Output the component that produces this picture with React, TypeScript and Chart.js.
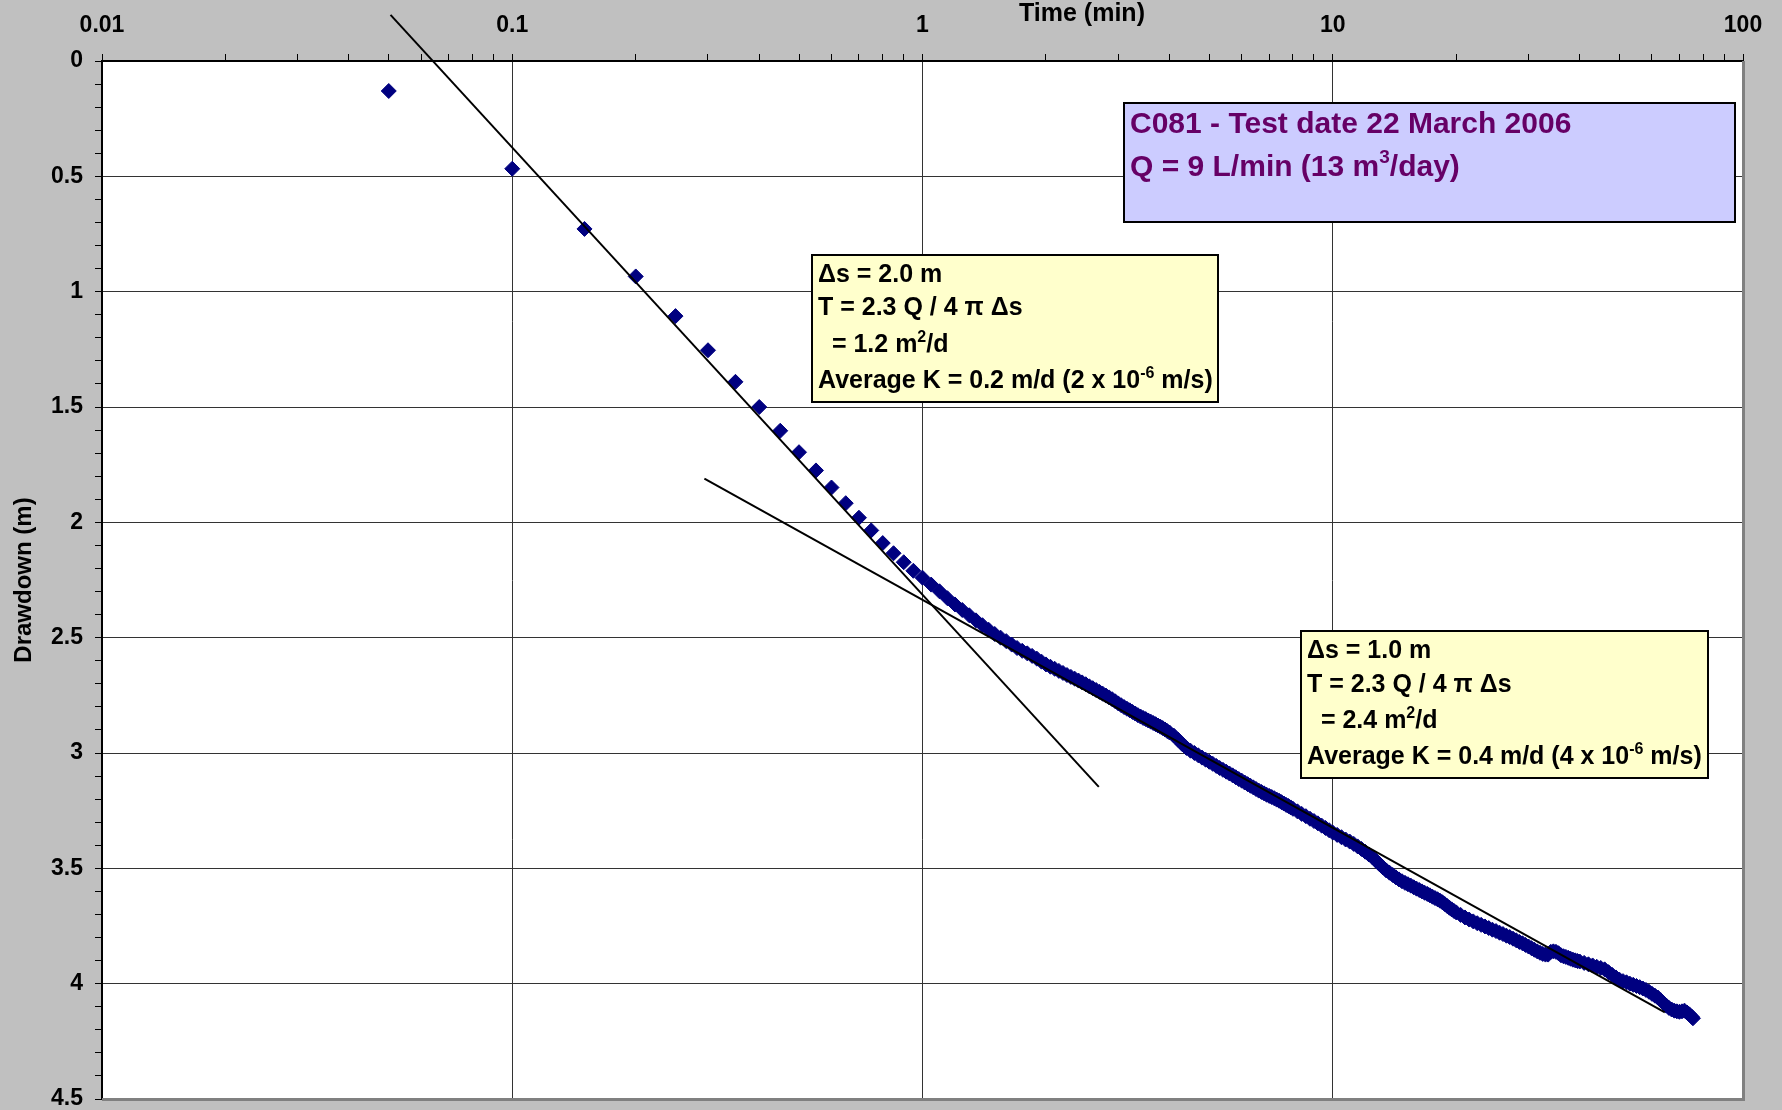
import React, { useEffect, useRef } from "react";
import { Chart, registerables } from "chart.js";

Chart.register(...registerables);

// ---------------- data ----------------
const earlyTimeMin = [
  0.05, 0.1, 0.15, 0.2, 0.25, 0.3, 0.35, 0.4, 0.45, 0.5,
  0.55, 0.6, 0.65, 0.7, 0.75, 0.8, 0.85, 0.9, 0.95, 1.0,
];
const earlyDrawdownM = [
  0.13, 0.467, 0.728, 0.934, 1.106, 1.254, 1.391, 1.5, 1.603, 1.696,
  1.775, 1.849, 1.917, 1.98, 2.035, 2.09, 2.134, 2.173, 2.21, 2.24,
];

const midTimeMin = [
  1.05, 1.1, 1.15, 1.2, 1.25, 1.3, 1.35, 1.4, 1.45, 1.5, 1.55, 1.6, 1.65, 1.7, 1.75, 1.8, 1.85, 1.9, 1.95, 2.0,
  2.05, 2.1, 2.15, 2.2, 2.25, 2.3, 2.35, 2.4, 2.45, 2.5, 2.55, 2.6, 2.65, 2.7, 2.75, 2.8, 2.85, 2.9, 2.95, 3.0,
  3.05, 3.1, 3.15, 3.2, 3.25, 3.3, 3.35, 3.4, 3.45, 3.5, 3.55, 3.6, 3.65, 3.7, 3.75, 3.8, 3.85, 3.9, 3.95, 4.0,
];
const midDrawdownM = [
  2.27, 2.299, 2.329, 2.356, 2.38, 2.403, 2.425, 2.446, 2.466, 2.484, 2.5, 2.515, 2.53, 2.545, 2.557, 2.568, 2.579, 2.591, 2.604, 2.616,
  2.626, 2.635, 2.644, 2.653, 2.662, 2.67, 2.678, 2.686, 2.694, 2.702, 2.711, 2.719, 2.727, 2.735, 2.743, 2.751, 2.759, 2.767, 2.776, 2.785,
  2.793, 2.801, 2.808, 2.815, 2.822, 2.829, 2.836, 2.842, 2.848, 2.853, 2.859, 2.864, 2.87, 2.875, 2.881, 2.886, 2.892, 2.898, 2.905, 2.911,
];

const lateTimeMin = [
  4.1, 4.2, 4.3, 4.4, 4.5, 4.6, 4.7, 4.8, 4.9, 5.0, 5.1, 5.2, 5.3, 5.4, 5.5, 5.6, 5.7, 5.8, 5.9, 6.0,
  6.1, 6.2, 6.3, 6.4, 6.5, 6.6, 6.7, 6.8, 6.9, 7.0, 7.1, 7.2, 7.3, 7.4, 7.5, 7.6, 7.7, 7.8, 7.9, 8.0,
  8.2, 8.4, 8.6, 8.8, 9.0, 9.2, 9.4, 9.6, 9.8, 10.0,
  10.25, 10.5, 10.75, 11, 11.25, 11.5, 11.75, 12, 12.25, 12.5, 12.75, 13, 13.25, 13.5, 13.75, 14, 14.25, 14.5, 14.75, 15,
  15.25, 15.5, 15.75, 16, 16.25, 16.5, 16.75, 17, 17.25, 17.5, 17.75, 18, 18.25, 18.5, 18.75, 19, 19.25, 19.5, 19.75, 20,
];
const lateDrawdownM = [
  2.925, 2.943, 2.962, 2.978, 2.99, 3.0, 3.01, 3.02, 3.029, 3.038, 3.047, 3.056, 3.065, 3.073, 3.081, 3.089, 3.097, 3.105, 3.113, 3.12,
  3.128, 3.135, 3.142, 3.149, 3.156, 3.163, 3.169, 3.175, 3.181, 3.186, 3.191, 3.196, 3.202, 3.207, 3.213, 3.219, 3.225, 3.23, 3.236, 3.242,
  3.253, 3.264, 3.274, 3.285, 3.295, 3.305, 3.315, 3.325, 3.335, 3.345,
  3.355, 3.365, 3.375, 3.384, 3.394, 3.405, 3.416, 3.428, 3.44, 3.452, 3.467, 3.482, 3.496, 3.509, 3.519, 3.529, 3.539, 3.548, 3.556, 3.563,
  3.569, 3.575, 3.582, 3.588, 3.594, 3.6, 3.606, 3.611, 3.617, 3.623, 3.629, 3.634, 3.64, 3.647, 3.655, 3.663, 3.671, 3.678, 3.685, 3.691,
];

const tailTimeMin = [
  20.5, 21, 21.5, 22, 22.5, 23, 23.5, 24, 24.5, 25, 25.5, 26, 26.5, 27, 27.5, 28, 28.5, 29, 29.5, 30,
  30.5, 31, 31.5, 32, 32.5, 33, 33.5, 34, 34.5, 35, 35.5, 36, 36.5, 37, 37.5, 38, 38.5, 39, 39.5, 40,
  41, 42, 43, 44, 45, 46, 47, 48, 49, 50, 51, 52, 53, 54, 55, 56, 57, 58, 59, 60,
  61, 62, 63, 64, 65, 66, 67, 68, 69, 70, 71, 72, 73, 74, 75, 75.5,
];
const tailDrawdownM = [
  3.702, 3.713, 3.722, 3.73, 3.738, 3.745, 3.752, 3.759, 3.766, 3.772, 3.779, 3.785, 3.792, 3.798, 3.805, 3.812, 3.819, 3.825, 3.832, 3.839,
  3.846, 3.853, 3.86, 3.866, 3.871, 3.874, 3.874, 3.862, 3.86, 3.862, 3.868, 3.877, 3.881, 3.884, 3.888, 3.892, 3.896, 3.899, 3.902, 3.904,
  3.91, 3.916, 3.921, 3.927, 3.932, 3.938, 3.95, 3.962, 3.973, 3.983, 3.989, 3.994, 4.0, 4.005, 4.01, 4.015, 4.021, 4.027, 4.035, 4.044,
  4.052, 4.06, 4.072, 4.084, 4.095, 4.105, 4.112, 4.117, 4.12, 4.122, 4.12, 4.117, 4.125, 4.133, 4.143, 4.15,
];

// straight-line fits (Δs = 2.0 m and Δs = 1.0 m per log cycle)
const fit1TimeMin = [0.0505, 2.69];
const fit1DrawdownM = [-0.2, 3.147];
const fit2TimeMin = [0.294, 64.5];
const fit2DrawdownM = [1.811, 4.124];

// axes
const xDecades = [0.01, 0.1, 1, 10, 100];
const xMinorMultipliers = [2, 3, 4, 5, 6, 7, 8, 9];
const yMajorTicks = [0, 0.5, 1, 1.5, 2, 2.5, 3, 3.5, 4, 4.5];
const yMinorPerMajor = 5;

const xTitle = "Time (min)";
const yTitle = "Drawdown (m)";

type Seg = { t: string; sup?: boolean };
const titleLines: Seg[][] = [
  [{ t: "C081 - Test date 22 March 2006" }],
  [{ t: "Q = 9 L/min (13 m" }, { t: "3", sup: true }, { t: "/day)" }],
];
const note1Lines: Seg[][] = [
  [{ t: "Δs = 2.0 m" }],
  [{ t: "T = 2.3 Q / 4 π Δs" }],
  [{ t: "  = 1.2 m" }, { t: "2", sup: true }, { t: "/d" }],
  [{ t: "Average K = 0.2 m/d (2 x 10" }, { t: "-6", sup: true }, { t: " m/s)" }],
];
const note2Lines: Seg[][] = [
  [{ t: "Δs = 1.0 m" }],
  [{ t: "T = 2.3 Q / 4 π Δs" }],
  [{ t: "  = 2.4 m" }, { t: "2", sup: true }, { t: "/d" }],
  [{ t: "Average K = 0.4 m/d (4 x 10" }, { t: "-6", sup: true }, { t: " m/s)" }],
];

// ---------------- layout / style ----------------
const W = 1782;
const H = 1110;
const FONT = '"Liberation Sans", Arial, Helvetica, sans-serif';
const BG = "#C0C0C0";
const MARK = "#000080";

type Box = { x: number; y: number; w: number; h: number; fill: string; color: string; size: number; baselines: number[]; lines: Seg[][] };
const boxes: Box[] = [
  { x: 1124, y: 103, w: 611, h: 119, fill: "#CCCCFF", color: "#660066", size: 30, baselines: [30, 73], lines: titleLines },
  { x: 812, y: 255, w: 406, h: 147, fill: "#FFFFCC", color: "#000000", size: 25, baselines: [27, 60, 97, 133], lines: note1Lines },
  { x: 1301, y: 631, w: 407, h: 147, fill: "#FFFFCC", color: "#000000", size: 25, baselines: [27, 61, 97, 133], lines: note2Lines },
];

function isDecade(v: number) {
  if (!(v > 0)) return false;
  const l = Math.log10(v);
  return Math.abs(l - Math.round(l)) < 1e-9;
}
function isYMajor(v: number) {
  return Math.abs(v * 2 - Math.round(v * 2)) < 1e-6;
}

function drawRich(ctx: CanvasRenderingContext2D, x: number, y: number, segs: Seg[], size: number, color: string) {
  let cx = x;
  ctx.fillStyle = color;
  ctx.textAlign = "left";
  ctx.textBaseline = "alphabetic";
  for (const s of segs) {
    const fs = s.sup ? Math.round(size * 0.62) : size;
    ctx.font = `bold ${fs}px ${FONT}`;
    ctx.fillText(s.t, cx, s.sup ? y - size * 0.42 : y);
    cx += ctx.measureText(s.t).width;
  }
}

const decorPlugin = {
  id: "decor",
  beforeDraw(chart: any) {
    const { ctx, chartArea: a } = chart;
    ctx.save();
    ctx.fillStyle = BG;
    ctx.fillRect(0, 0, chart.width, chart.height);
    ctx.fillStyle = "#FFFFFF";
    ctx.fillRect(a.left, a.top, a.right - a.left, a.bottom - a.top);
    ctx.restore();
  },
  afterDraw(chart: any) {
    const { ctx, chartArea: a } = chart;
    ctx.save();
    // plot-area border (right & bottom)
    ctx.strokeStyle = "#808080";
    ctx.lineWidth = 3;
    ctx.beginPath();
    ctx.moveTo(a.right + 0.5, a.top);
    ctx.lineTo(a.right + 0.5, a.bottom + 0.5);
    ctx.lineTo(a.left, a.bottom + 0.5);
    ctx.stroke();

    // axis titles
    ctx.fillStyle = "#000";
    ctx.font = `bold 25px ${FONT}`;
    ctx.textAlign = "center";
    ctx.textBaseline = "alphabetic";
    ctx.fillText(xTitle, 1082, 21);
    ctx.save();
    ctx.translate(31, (a.top + a.bottom) / 2);
    ctx.rotate(-Math.PI / 2);
    ctx.font = `bold 24px ${FONT}`;
    ctx.fillText(yTitle, 0, 0);
    ctx.restore();

    // text boxes
    for (const b of boxes) {
      ctx.fillStyle = b.fill;
      ctx.fillRect(b.x, b.y, b.w, b.h);
      ctx.strokeStyle = "#000";
      ctx.lineWidth = 2;
      ctx.strokeRect(b.x, b.y, b.w, b.h);
      b.lines.forEach((line, i) => drawRich(ctx, b.x + 6, b.y + b.baselines[i], line, b.size, b.color));
    }
    ctx.restore();
  },
};

export default function App() {
  const ref = useRef<HTMLCanvasElement>(null);

  useEffect(() => {
    document.body.style.margin = "0";
    document.body.style.overflow = "hidden";
    document.body.style.background = BG;

    const xTicks: number[] = [];
    for (let i = 0; i < xDecades.length; i++) {
      xTicks.push(xDecades[i]);
      if (i < xDecades.length - 1) for (const m of xMinorMultipliers) xTicks.push(xDecades[i] * m);
    }
    const yTicks: number[] = [];
    for (let i = 0; i < yMajorTicks.length; i++) {
      yTicks.push(yMajorTicks[i]);
      if (i < yMajorTicks.length - 1) {
        const step = (yMajorTicks[i + 1] - yMajorTicks[i]) / yMinorPerMajor;
        for (let k = 1; k < yMinorPerMajor; k++) yTicks.push(Math.round((yMajorTicks[i] + k * step) * 1000) / 1000);
      }
    }

    const pairs = (ts: number[], ss: number[]) => ts.map((t, i) => ({ x: t, y: ss[i] }));
    const points = [
      ...pairs(earlyTimeMin, earlyDrawdownM),
      ...pairs(midTimeMin, midDrawdownM),
      ...pairs(lateTimeMin, lateDrawdownM),
      ...pairs(tailTimeMin, tailDrawdownM),
    ];
    const tickFont = { family: FONT, size: 23, weight: "bold" as const };

    const chart = new Chart(ref.current!, {
      type: "scatter",
      data: {
        datasets: [
          {
            label: "Fit 1",
            data: pairs(fit1TimeMin, fit1DrawdownM),
            showLine: true,
            borderColor: "#000",
            backgroundColor: "#000",
            borderWidth: 2,
            pointRadius: 0,
            clip: false as any,
            order: 0,
          },
          {
            label: "Fit 2",
            data: pairs(fit2TimeMin, fit2DrawdownM),
            showLine: true,
            borderColor: "#000",
            backgroundColor: "#000",
            borderWidth: 2,
            pointRadius: 0,
            clip: false as any,
            order: 0,
          },
          {
            label: "Drawdown",
            data: points,
            pointStyle: "rectRot",
            pointRadius: 7.5,
            backgroundColor: MARK,
            borderColor: MARK,
            borderWidth: 1,
            showLine: false,
            order: 1,
          },
        ],
      },
      options: {
        responsive: false,
        animation: false,
        events: [],
        layout: { padding: { left: 0, top: 0, right: 39, bottom: 11 } },
        plugins: { legend: { display: false }, tooltip: { enabled: false }, title: { display: false } },
        scales: {
          x: {
            type: "logarithmic",
            position: "top",
            min: 0.01,
            max: 100,
            afterBuildTicks: (s: any) => {
              s.ticks = xTicks.map((v) => ({ value: v }));
            },
            afterFit: (s: any) => {
              s.height = 61;
              s.paddingLeft = 0;
              s.paddingRight = 0;
            },
            ticks: {
              autoSkip: false,
              maxRotation: 0,
              minRotation: 0,
              padding: 15,
              color: "#000",
              font: tickFont,
              callback: (v: any) => (isDecade(Number(v)) ? String(Number(v)) : ""),
            },
            grid: {
              color: (c: any) => (c.tick && isDecade(c.tick.value) ? "#333333" : "rgba(0,0,0,0)"),
              lineWidth: 1,
              drawTicks: true,
              tickLength: 7,
              tickColor: "#000",
              tickWidth: 1,
            },
            border: { display: true, color: "#000", width: 2 },
          },
          y: {
            type: "linear",
            position: "left",
            reverse: true,
            min: 0,
            max: 4.5,
            afterBuildTicks: (s: any) => {
              s.ticks = yTicks.map((v) => ({ value: v }));
            },
            afterFit: (s: any) => {
              s.width = 102;
              s.paddingTop = 0;
              s.paddingBottom = 0;
            },
            ticks: {
              autoSkip: false,
              padding: 12,
              color: "#000",
              font: tickFont,
              callback: (v: any) => (isYMajor(Number(v)) ? String(Number(v)) : ""),
            },
            grid: {
              color: (c: any) => (c.tick && isYMajor(c.tick.value) ? "#333333" : "rgba(0,0,0,0)"),
              lineWidth: 1,
              drawTicks: true,
              tickLength: 7,
              tickColor: "#000",
              tickWidth: 1,
            },
            border: { display: true, color: "#000", width: 2 },
          },
        },
      },
      plugins: [decorPlugin as any],
    });

    return () => chart.destroy();
  }, []);

  return (
    <div style={{ width: W, height: H, overflow: "hidden" }}>
      <canvas ref={ref} width={W} height={H} style={{ display: "block", width: W, height: H }} />
    </div>
  );
}
